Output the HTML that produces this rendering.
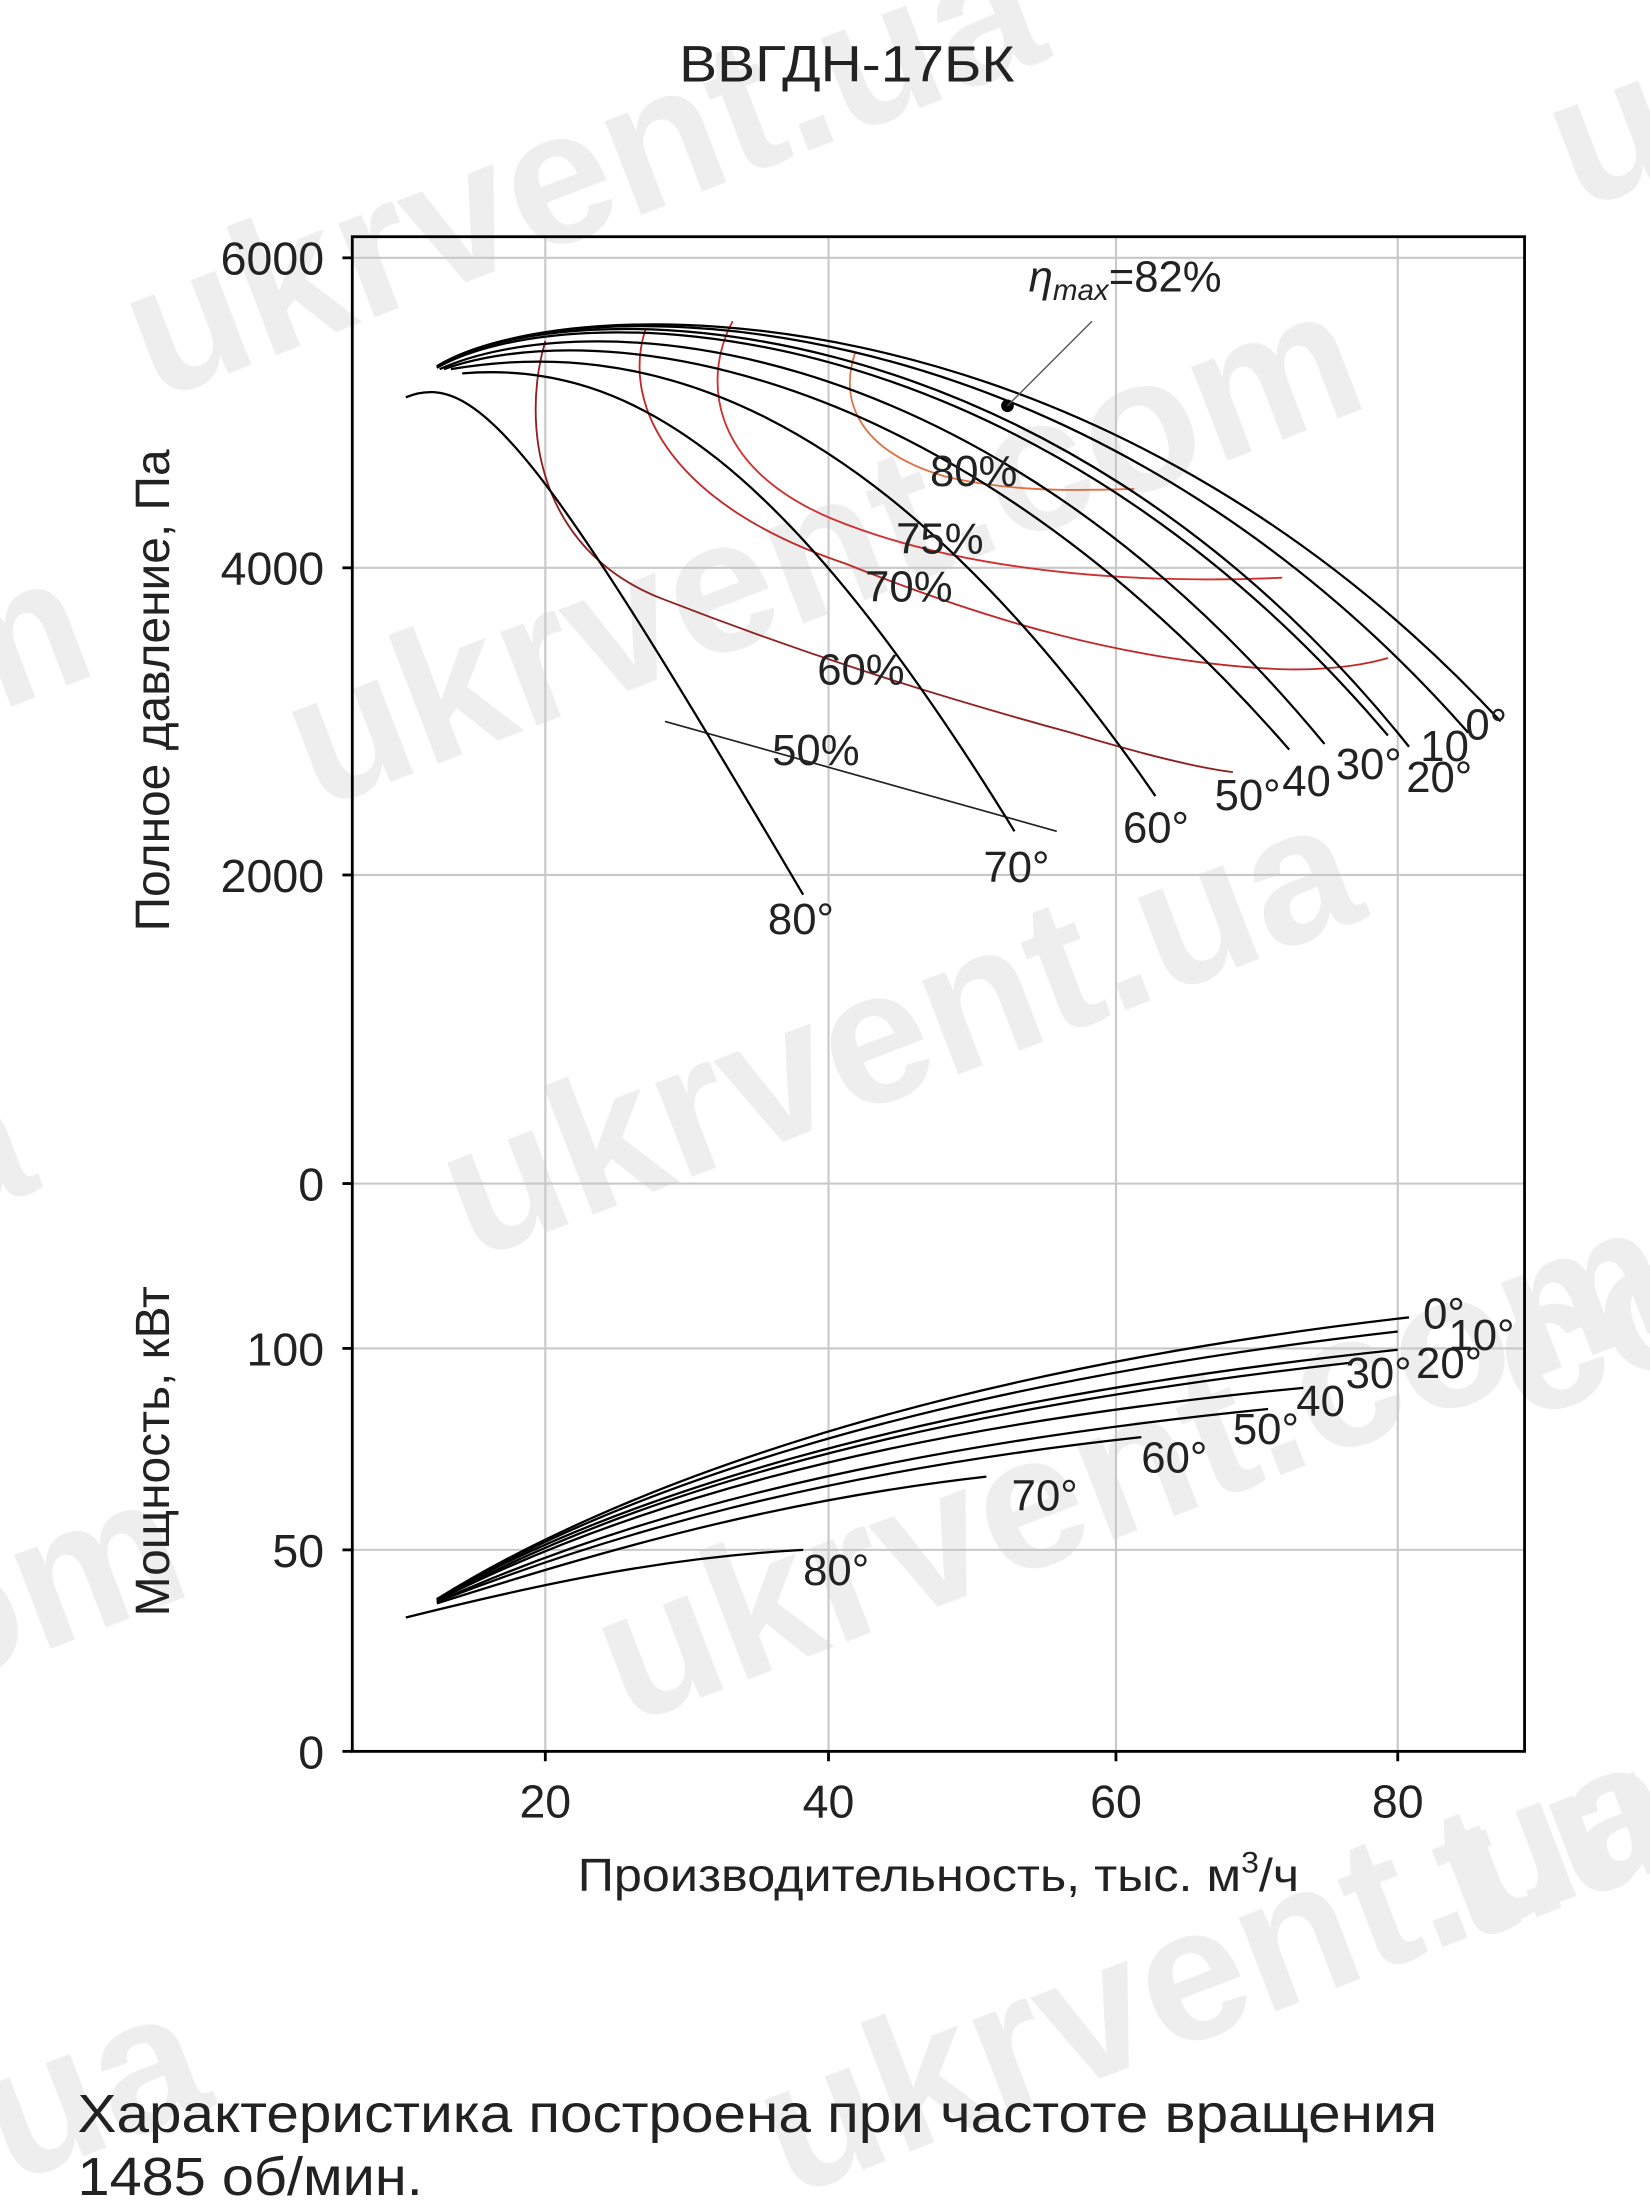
<!DOCTYPE html>
<html><head><meta charset="utf-8"><style>
html,body{margin:0;padding:0;background:#fff;}
svg{display:block;}
text{font-family:"Liberation Sans",Arial,sans-serif;}
</style></head><body>
<svg width="1650" height="2209" viewBox="0 0 1171 1567.8" xmlns="http://www.w3.org/2000/svg">
<rect width="1171" height="1568" fill="#fff"/>
<!-- watermarks -->
<g fill="#eeeeee" font-weight="bold" font-size="135" font-family="Liberation Sans,sans-serif">
<text transform="translate(110,285) rotate(-21)">ukrvent.ua</text>
<text transform="translate(225,575) rotate(-21)">ukrvent.com</text>
<text transform="translate(335,895) rotate(-21)">ukrvent.ua</text>
<text transform="translate(445,1225) rotate(-21)">ukrvent.com</text>
<text transform="translate(560,1560) rotate(-21)">ukrvent.ua</text>
<text transform="translate(-40,520) rotate(-21)">m</text>
<text transform="translate(-40,870) rotate(-21)">a</text>
<text transform="translate(-120,1230) rotate(-21)">com</text>
<text transform="translate(-70,1580) rotate(-21)">t.ua</text>
<text transform="translate(1120,150) rotate(-21)">u</text>
<text transform="translate(1080,1010) rotate(-21)">co</text>
<text transform="translate(1040,1380) rotate(-21)">t.u</text>
</g>
<text x="601" y="58" font-size="36" text-anchor="middle" fill="#222" textLength="238" lengthAdjust="spacingAndGlyphs">ВВГДН-17БК</text>
<!-- grid -->
<g stroke="#c8c8c8" stroke-width="1.5">
<line x1="387" y1="168" x2="387" y2="1243"/><line x1="588" y1="168" x2="588" y2="1243"/>
<line x1="792" y1="168" x2="792" y2="1243"/><line x1="992" y1="168" x2="992" y2="1243"/>
<line x1="250" y1="183" x2="1082" y2="183"/><line x1="250" y1="403" x2="1082" y2="403"/>
<line x1="250" y1="621" x2="1082" y2="621"/><line x1="250" y1="840" x2="1082" y2="840"/>
<line x1="250" y1="957" x2="1082" y2="957"/><line x1="250" y1="1100" x2="1082" y2="1100"/>
</g>
<rect x="250" y="168" width="832" height="1075" fill="none" stroke="#000" stroke-width="2"/>
<g stroke="#000" stroke-width="2">
<line x1="243" y1="183" x2="250" y2="183"/><line x1="243" y1="403" x2="250" y2="403"/>
<line x1="243" y1="621" x2="250" y2="621"/><line x1="243" y1="840" x2="250" y2="840"/>
<line x1="243" y1="957" x2="250" y2="957"/><line x1="243" y1="1100" x2="250" y2="1100"/>
<line x1="243" y1="1243" x2="250" y2="1243"/>
<line x1="387" y1="1243" x2="387" y2="1250"/><line x1="588" y1="1243" x2="588" y2="1250"/>
<line x1="792" y1="1243" x2="792" y2="1250"/><line x1="992" y1="1243" x2="992" y2="1250"/>
</g>
<g font-size="33" fill="#222" text-anchor="end">
<text x="230" y="195">6000</text><text x="230" y="415">4000</text><text x="230" y="633">2000</text>
<text x="230" y="852">0</text><text x="230" y="969">100</text><text x="230" y="1112">50</text><text x="230" y="1255">0</text>
</g>
<g font-size="33" fill="#222" text-anchor="middle">
<text x="387" y="1290">20</text><text x="588" y="1290">40</text><text x="792" y="1290">60</text><text x="992" y="1290">80</text>
</g>
<text x="410" y="1342" font-size="33" fill="#222" textLength="512" lengthAdjust="spacingAndGlyphs">Производительность, тыс. м<tspan font-size="21" dy="-13">3</tspan><tspan dy="13">/ч</tspan></text>
<text transform="translate(120,490) rotate(-90)" font-size="34" fill="#222" text-anchor="middle">Полное давление, Па</text>
<text transform="translate(120,1030) rotate(-90)" font-size="34" fill="#222" text-anchor="middle">Мощность, кВт</text>
<!-- efficiency curves -->
<g fill="none" stroke-width="1.3">
<path d="M607,250 C595,285 610,320 670,338 C720,350 770,348 805,347" stroke="#e07040"/>
<path d="M520,228 C500,265 500,330 590,368 C680,405 800,415 910,410" stroke="#d03030"/>
<path d="M458,234 C440,290 480,360 600,400 C700,440 800,470 910,475 C950,476 975,470 985,467" stroke="#c02828"/>
<path d="M387,242 C370,300 380,390 470,425 C560,460 650,490 760,520 C810,535 850,545 875,548" stroke="#902020"/>
</g>
<path d="M472,512 L750,590" stroke="#222" stroke-width="1.2" fill="none"/>
<!-- pressure curves -->
<g fill="none" stroke="#000" stroke-width="1.6">
<path d="M310,260 C400,205 770,195 1065,512"/>
<path d="M310,260 C400,205 760,200 1042,520"/>
<path d="M310,260 C400,207 740,205 1000,530"/>
<path d="M310,261 C400,210 720,210 985,522"/>
<path d="M312,262 C410,218 690,225 940,528"/>
<path d="M315,262 C410,228 660,240 915,532"/>
<path d="M320,262 C450,240 620,275 820,565"/>
<path d="M328,265 C450,255 560,330 720,590"/>
<path d="M288,282 C340,260 390,330 570,635"/>
</g>
<circle cx="715" cy="288" r="4.5" fill="#000"/>
<line x1="715" y1="288" x2="775" y2="228" stroke="#555" stroke-width="1"/>
<text x="730" y="207" font-size="31" fill="#222"><tspan font-style="italic">η</tspan><tspan font-style="italic" font-size="21" dy="6">max</tspan><tspan dy="-6">=82%</tspan></text>
<g font-size="31" fill="#222">
<text x="660" y="345">80%</text><text x="636" y="393">75%</text><text x="614" y="427">70%</text>
<text x="580" y="486">60%</text><text x="548" y="543">50%</text>
<text x="1008" y="540">10</text><text x="1040" y="525">0°</text><text x="998" y="562">20°</text>
<text x="948" y="553">30°</text><text x="910" y="565">40</text><text x="862" y="575">50°</text>
<text x="797" y="598">60°</text><text x="698" y="626">70°</text><text x="545" y="663">80°</text>
</g>
<!-- power curves -->
<g fill="none" stroke="#000" stroke-width="1.6">
<path d="M310,1135 C430,1060 650,975 1000,935"/>
<path d="M310,1135 C430,1063 640,985 992,945"/>
<path d="M310,1135 C430,1066 640,995 992,958"/>
<path d="M310,1136 C430,1070 620,1005 960,967"/>
<path d="M310,1136 C430,1075 610,1015 925,985"/>
<path d="M310,1137 C430,1083 600,1030 900,1000"/>
<path d="M310,1137 C430,1090 580,1045 810,1020"/>
<path d="M310,1138 C430,1100 550,1065 700,1048"/>
<path d="M288,1148 C400,1120 480,1105 570,1100"/>
</g>
<g font-size="31" fill="#222">
<text x="1010" y="943">0°</text><text x="1028" y="958">10°</text><text x="1005" y="978">20°</text>
<text x="955" y="985">30°</text><text x="920" y="1005">40</text><text x="875" y="1025">50°</text>
<text x="810" y="1045">60°</text><text x="718" y="1072">70°</text><text x="570" y="1125">80°</text>
</g>
<text x="55" y="1513" font-size="38" fill="#222" textLength="965" lengthAdjust="spacingAndGlyphs">Характеристика построена при частоте вращения</text>
<text x="55" y="1558" font-size="38" fill="#222" textLength="245" lengthAdjust="spacingAndGlyphs">1485 об/мин.</text>
</svg>
</body></html>
